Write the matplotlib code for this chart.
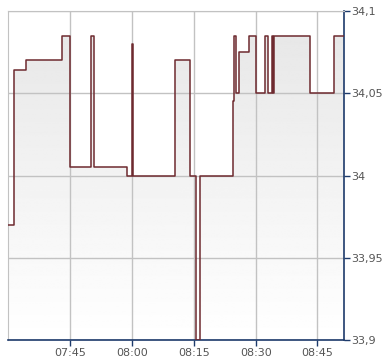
import numpy as np
import pandas as pd
import matplotlib
matplotlib.use("Agg")
import matplotlib.pyplot as plt
import matplotlib.dates as mdates
from matplotlib.ticker import FixedLocator, FuncFormatter

# ── data (step series, value holds until next timestamp) ──────────────────────
times = [
    "07:30:00", "07:31:27", "07:34:22", "07:43:04", "07:45:00", "07:50:05",
    "07:50:49", "07:58:43", "08:00:06", "08:00:17", "08:10:24", "08:14:02",
    "08:15:29", "08:16:27", "08:24:26", "08:24:40", "08:25:10", "08:25:53",
    "08:28:24", "08:30:00", "08:32:10", "08:32:54", "08:33:52", "08:34:12",
    "08:34:21", "08:43:18", "08:49:06", "08:51:26",
]
prices = [
    33.970, 34.064, 34.070, 34.085, 34.005, 34.085,
    34.005, 34.000, 34.080, 34.000, 34.070, 34.000,
    33.900, 34.000, 34.045, 34.085, 34.050, 34.075,
    34.085, 34.050, 34.085, 34.050, 34.085, 34.050,
    34.085, 34.050, 34.085, 34.085,
]
x_ticks = ["07:45", "08:00", "08:15", "08:30", "08:45"]
y_ticks = [33.9, 33.95, 34.0, 34.05, 34.1]

day = "2024-01-02 "
t = mdates.date2num(pd.to_datetime([day + s for s in times]))
p = np.array(prices)
xt = mdates.date2num(pd.to_datetime([day + s for s in x_ticks]))

LINE = "#6e2a2f"
GRID = "#c2c2c2"
AXIS = "#1d3a6b"
TXT = "#555555"

fig = plt.figure(figsize=(3.9, 3.64), dpi=100)
ax = fig.add_axes([8.3 / 390, 1 - 340 / 364, (344 - 8.3) / 390, (340 - 11) / 364])

ymin, ymax = 33.9, 34.1
ax.set_xlim(t[0], t[-1])
ax.set_ylim(ymin, ymax)

# gradient fill under the step line
poly = ax.fill_between(t, p, ymin, step="post", color="none", lw=0)
grad = np.linspace(0.90, 1.0, 256).reshape(-1, 1)
im = ax.imshow(grad, cmap="gray", vmin=0, vmax=1, aspect="auto",
               extent=[t[0], t[-1], ymin, ymax], origin="upper", zorder=0.2)
im.set_clip_path(poly.get_paths()[0], transform=ax.transData)

ax.plot(t, p, drawstyle="steps-post", color=LINE, lw=1.1, zorder=3)

ax.xaxis.set_major_locator(FixedLocator(xt))
ax.xaxis.set_major_formatter(mdates.DateFormatter("%H:%M"))
ax.yaxis.set_major_locator(FixedLocator(y_ticks))
ax.yaxis.set_major_formatter(FuncFormatter(lambda v, _: f"{v:.2f}".rstrip("0").rstrip(".").replace(".", ",")))
ax.yaxis.tick_right()

ax.set_axisbelow(True)
ax.grid(True, color=GRID, lw=1, zorder=1)
ax.tick_params(axis="both", colors=TXT, labelsize=8, length=4, width=1, direction="out")
ax.tick_params(axis="x", color=AXIS, pad=2)
ax.tick_params(axis="y", color=AXIS, pad=1)

for side in ("left", "top"):
    ax.spines[side].set_color(GRID)
for side in ("right", "bottom"):
    ax.spines[side].set_color(AXIS)
    ax.spines[side].set_linewidth(1.2)

fig.savefig("out.png", dpi=100, facecolor="white")
